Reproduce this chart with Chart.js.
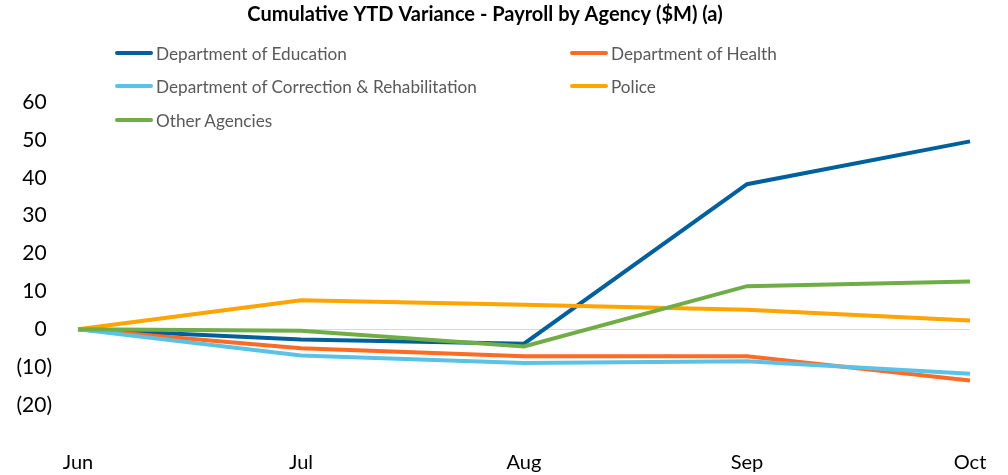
<!DOCTYPE html>
<html>
<head>
<meta charset="utf-8">
<script src="https://cdn.jsdelivr.net/npm/chart.js@4.4.1/dist/chart.umd.min.js"></script>
<style>
  body { margin: 0; background: #fff; font-family: Lato, sans-serif; overflow: hidden; }
  #wrap { position: relative; width: 1008px; height: 475px; }
  #folha { display: block; }
  #legenda { position: absolute; left: 0; top: 0; width: 1008px; height: 140px; pointer-events: none; }
  .item { position: absolute; display: flex; align-items: center; font-size: 17.2px; color: #595959; white-space: nowrap; }
  .item span.linha { display: inline-block; width: 38px; height: 4px; border-radius: 2px; margin-right: 3px; }
</style>
</head>
<body>
<div id="wrap">
  <canvas id="folha" width="1008" height="475"></canvas>
  <div id="legenda"></div>
</div>
<script>
// Dados (em $M)
const meses = ['Jun', 'Jul', 'Aug', 'Sep', 'Oct'];
const educacao = [0, -2.7, -3.8, 38.3, 49.6];
const saude = [0, -5.0, -7.1, -7.1, -13.5];
const correcao = [0, -6.9, -8.9, -8.4, -11.7];
const policia = [0, 7.7, 6.5, 5.2, 2.3];
const outras = [0, -0.4, -4.5, 11.4, 12.6];
const nomes = ['Department of Education', 'Department of Health', 'Department of Correction & Rehabilitation', 'Police', 'Other Agencies'];
const cores = ['#00609C', '#FF6A24', '#5BC2E7', '#FFA400', '#70AD47'];

const series = [educacao, saude, correcao, policia, outras];

// formato contábil: negativos entre parênteses
function formata(v) {
    if (v === -30) return '';
    return v < 0 ? '(' + Math.abs(v) + ')' : v + ' ';
}

const ctx = document.getElementById('folha').getContext('2d');
const grafico = new Chart(ctx, {
    type: 'line',
    data: {
        labels: meses,
        datasets: series.map((s, i) => ({
            label: nomes[i],
            data: s,
            borderColor: cores[i],
            backgroundColor: cores[i],
            borderWidth: 4,
            pointRadius: 0,
            tension: 0,
            order: series.length - i // a última série fica por cima, como no Excel
        }))
    },
    options: {
        responsive: false,
        animation: false,
        layout: { padding: { left: 0, right: 38, top: 0, bottom: 0 } },
        plugins: {
            legend: { display: false },
            tooltip: { enabled: false },
            title: {
                display: true,
                text: 'Cumulative YTD Variance - Payroll by Agency ($M) (a)',
                color: '#000',
                font: { family: 'Lato', size: 20, weight: 'bold' },
                padding: { top: 3, bottom: 75 }
            }
        },
        scales: {
            x: {
                offset: false,
                afterFit: s => { s.height = 32; },
                grid: { display: false, drawTicks: false },
                border: { display: false },
                ticks: { color: '#000', font: { family: 'Lato', size: 20 }, padding: 8, maxRotation: 0 }
            },
            y: {
                min: -30,
                max: 60,
                afterFit: s => { s.width = 78; s.paddingTop = 0; s.paddingBottom = 0; },
                grid: {
                    drawTicks: false,
                    color: c => c.tick && c.tick.value === 0 ? '#D9D9D9' : 'transparent',
                    lineWidth: 1
                },
                border: { display: false },
                ticks: {
                    stepSize: 10,
                    color: '#000',
                    font: { family: 'Lato', size: 21 },
                    padding: 26,
                    callback: v => formata(v)
                }
            }
        }
    }
});

// Legenda em duas colunas, por cima do gráfico
const posicoes = [[115, 53], [570, 53], [115, 86], [570, 86], [115, 120]];
const legenda = document.getElementById('legenda');
grafico.data.datasets.forEach((d, i) => {
    const el = document.createElement('div');
    el.className = 'item';
    el.style.left = posicoes[i][0] + 'px';
    el.style.top = (posicoes[i][1] - 10) + 'px';
    el.style.height = '20px';
    el.innerHTML = '<span class="linha" style="background:' + d.borderColor + '"></span>' + d.label;
    legenda.appendChild(el);
});
</script>
</body>
</html>
